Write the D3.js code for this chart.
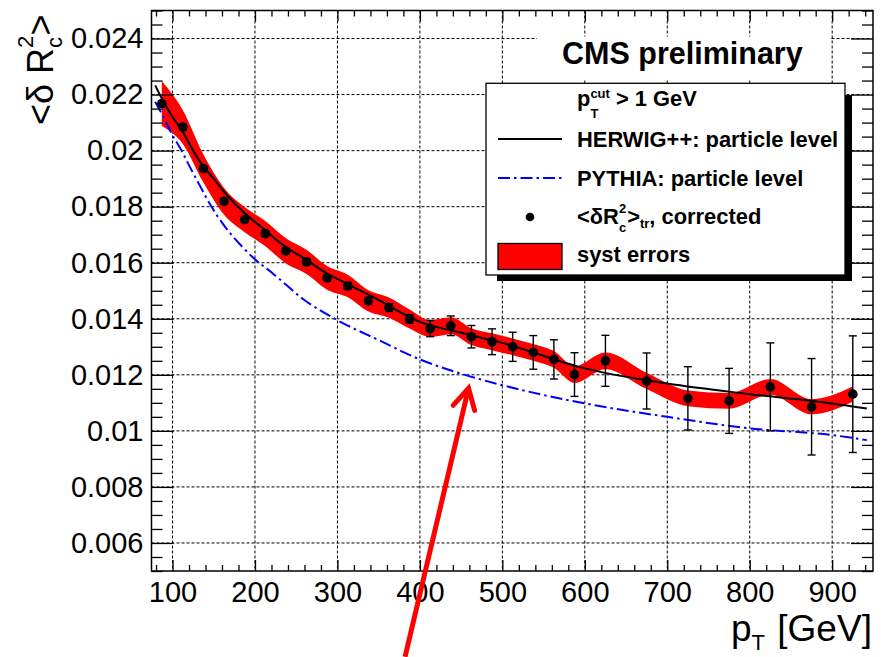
<!DOCTYPE html>
<meta charset="utf-8">
<head>
<title>delta R2 vs pT</title>
<style>
  body { margin: 0; background: #fff; }
  svg { display: block; background: #fff; }
  text { font-family: "Liberation Sans", Arial, Helvetica, sans-serif; fill: #000; }
  .grid line { stroke: #000; stroke-width: 1; stroke-dasharray: 3,2; }
  .tick line { stroke: #000; stroke-width: 1.3; }
</style>
</head>
<body>
<script src="https://cdn.jsdelivr.net/npm/d3@7"></script>
<script>

// ---- data ----
var ptBins   = [87, 112.5, 137.5, 162.5, 187.5, 212.5, 237.5, 262.5, 287.5, 312.5, 337.5, 362.5,
                387.5, 412.5, 437.5, 462.5, 487.5, 512.5, 537.5, 562.5, 587.5, 625, 675, 725,
                775, 825, 875, 925];
var measured = [0.02168, 0.02084, 0.01936, 0.01819, 0.01754, 0.01704, 0.01642, 0.01603, 0.01546,
                0.01517, 0.01464, 0.01440, 0.01399, 0.01365, 0.01375, 0.01336, 0.01318, 0.01300,
                0.01280, 0.01255, 0.01201, 0.01250, 0.01178, 0.01116, 0.01107, 0.01157, 0.01086,
                0.01131];
var statErr  = [0.0001, 0.0001, 0.0001, 0.0001, 0.0001, 0.0001, 0.0001, 0.0001, 0.0001, 0.00012,
                0.00012, 0.00014, 0.00015, 0.00029, 0.00035, 0.0004, 0.00046, 0.00052, 0.0006,
                0.0007, 0.00078, 0.00091, 0.001, 0.00113, 0.00116, 0.00157, 0.00172, 0.00208];
var systErr  = [0.0008, 0.0006, 0.0005, 0.00048, 0.00045, 0.00045, 0.00045, 0.00043, 0.00042,
                0.0004, 0.00038, 0.00036, 0.00034, 0.0003, 0.0003, 0.0003, 0.0003, 0.0003, 0.0003,
                0.0003, 0.0003, 0.0003, 0.00029, 0.00028, 0.00028, 0.00028, 0.00027, 0.00027];

var herwigPt  = [79, 87, 100, 113, 125, 137, 150, 162, 186, 210, 234, 263, 287, 311, 343, 400,
                 450, 500, 600, 700, 800, 900, 942];
var herwigVal = [0.02233, 0.02186, 0.0212, 0.02065, 0.0200, 0.01945, 0.0190, 0.01855, 0.01781,
                 0.01722, 0.01663, 0.01609, 0.01562, 0.01526, 0.01478, 0.01389, 0.0135, 0.01314,
                 0.01223, 0.01169, 0.01131, 0.01098, 0.0108];

var pythiaPt  = [79, 89, 99, 111, 121, 133, 145, 162, 182, 200, 222, 259, 300, 350, 400, 450,
                 500, 600, 700, 800, 900, 942];
var pythiaVal = [0.02174, 0.0212, 0.0206, 0.0200, 0.01942, 0.01876, 0.01811, 0.01735, 0.01665,
                 0.01612, 0.01561, 0.01469, 0.01395, 0.01324, 0.01255, 0.01204, 0.01163, 0.01098,
                 0.0105, 0.01009, 0.00985, 0.00967];

var xMajor = [100, 200, 300, 400, 500, 600, 700, 800, 900];
var yMajor = [0.006, 0.008, 0.01, 0.012, 0.014, 0.016, 0.018, 0.02, 0.022, 0.024];

// arrow annotation (tail, tip) in data units
var arrowPt  = [382, 459];
var arrowVal = [0.00194, 0.01152];

// ---- frame / scales ----
var W = 885, H = 657;
var fl = 151.5, fr = 873, ft = 10.5, fb = 571;

var x = d3.scaleLinear().domain([74.5, 949.5]).range([fl, fr]);
var y = d3.scaleLinear().domain([0.005, 0.025]).range([fb, ft]);

var xMinor = d3.range(80, 949, 20).filter(function(d) { return d % 100 !== 0; });
var yMinor = d3.range(0.0050, 0.02501, 0.0005).map(function(d) { return +d.toFixed(4); })
               .filter(function(d) { return yMajor.indexOf(d) < 0; });

var svg = d3.select("body").append("svg")
    .attr("width", W)
    .attr("height", H);

// grid
var grid = svg.append("g").attr("class", "grid");
grid.selectAll(".gx").data(xMajor).enter().append("line")
    .attr("x1", function(d) { return x(d); }).attr("x2", function(d) { return x(d); })
    .attr("y1", ft).attr("y2", fb);
grid.selectAll(".gy").data(yMajor).enter().append("line")
    .attr("x1", fl).attr("x2", fr)
    .attr("y1", function(d) { return y(d); }).attr("y2", function(d) { return y(d); });

// CMS label (white box hides grid)
svg.append("rect").attr("x", 537).attr("y", 36.5).attr("width", 294).attr("height", 42.5)
    .attr("fill", "#fff");
svg.append("text").attr("x", 562).attr("y", 64)
    .attr("font-size", 30.5).attr("font-weight", "bold")
    .text("CMS preliminary");

// syst band
var pts = ptBins.map(function(p, i) { return {pt: p, v: measured[i], s: systErr[i], e: statErr[i]}; });
var band = d3.area()
    .x(function(d) { return x(d.pt); })
    .y0(function(d) { return y(d.v - d.s); })
    .y1(function(d) { return y(d.v + d.s); })
    .curve(d3.curveMonotoneX);
svg.append("path").datum(pts).attr("d", band).attr("fill", "#ff0000");

// MC curves
var line = d3.line()
    .x(function(d) { return x(d[0]); })
    .y(function(d) { return y(d[1]); })
    .curve(d3.curveMonotoneX);

svg.append("path")
    .datum(pythiaPt.map(function(p, i) { return [p, pythiaVal[i]]; }))
    .attr("d", line).attr("fill", "none")
    .attr("stroke", "#0000ff").attr("stroke-width", 2)
    .attr("stroke-dasharray", "12,4,2.5,4");

svg.append("path")
    .datum(herwigPt.map(function(p, i) { return [p, herwigVal[i]]; }))
    .attr("d", line).attr("fill", "none")
    .attr("stroke", "#000").attr("stroke-width", 2);

// error bars
var eb = svg.append("g").attr("stroke", "#000").attr("stroke-width", 1.4);
eb.selectAll(".bar").data(pts).enter().append("line")
    .attr("x1", function(d) { return x(d.pt); }).attr("x2", function(d) { return x(d.pt); })
    .attr("y1", function(d) { return y(d.v - d.e); }).attr("y2", function(d) { return y(d.v + d.e); });
eb.selectAll(".capT").data(pts).enter().append("line")
    .attr("x1", function(d) { return x(d.pt) - 4; }).attr("x2", function(d) { return x(d.pt) + 4; })
    .attr("y1", function(d) { return y(d.v + d.e); }).attr("y2", function(d) { return y(d.v + d.e); });
eb.selectAll(".capB").data(pts).enter().append("line")
    .attr("x1", function(d) { return x(d.pt) - 4; }).attr("x2", function(d) { return x(d.pt) + 4; })
    .attr("y1", function(d) { return y(d.v - d.e); }).attr("y2", function(d) { return y(d.v - d.e); });

svg.selectAll(".pt").data(pts).enter().append("circle")
    .attr("cx", function(d) { return x(d.pt); })
    .attr("cy", function(d) { return y(d.v); })
    .attr("r", 4.8).attr("fill", "#000");

// axes (ticks inside, on all four sides)
function styleAxis(g) {
  g.select(".domain").remove();
  g.attr("font-family", "\"Liberation Sans\", Arial, sans-serif").attr("font-size", 29);
}
svg.append("g").attr("transform", "translate(0," + fb + ")")
    .call(d3.axisBottom(x).tickValues(xMajor).tickSizeInner(-11).tickSizeOuter(0)
          .tickPadding(10).tickFormat(d3.format("d")))
    .call(styleAxis);
svg.append("g").attr("transform", "translate(0," + fb + ")")
    .call(d3.axisBottom(x).tickValues(xMinor).tickSizeInner(-6).tickSizeOuter(0).tickFormat(""))
    .call(styleAxis);
svg.append("g").attr("transform", "translate(0," + ft + ")")
    .call(d3.axisTop(x).tickValues(xMajor).tickSizeInner(-11).tickSizeOuter(0).tickFormat(""))
    .call(styleAxis);
svg.append("g").attr("transform", "translate(0," + ft + ")")
    .call(d3.axisTop(x).tickValues(xMinor).tickSizeInner(-6).tickSizeOuter(0).tickFormat(""))
    .call(styleAxis);
svg.append("g").attr("transform", "translate(" + fl + ",0)")
    .call(d3.axisLeft(y).tickValues(yMajor).tickSizeInner(-22).tickSizeOuter(0)
          .tickPadding(8).tickFormat(function(d) { return String(+d.toFixed(3)); }))
    .call(styleAxis);
svg.append("g").attr("transform", "translate(" + fl + ",0)")
    .call(d3.axisLeft(y).tickValues(yMinor).tickSizeInner(-11).tickSizeOuter(0).tickFormat(""))
    .call(styleAxis);
svg.append("g").attr("transform", "translate(" + fr + ",0)")
    .call(d3.axisRight(y).tickValues(yMajor).tickSizeInner(-22).tickSizeOuter(0).tickFormat(""))
    .call(styleAxis);
svg.append("g").attr("transform", "translate(" + fr + ",0)")
    .call(d3.axisRight(y).tickValues(yMinor).tickSizeInner(-11).tickSizeOuter(0).tickFormat(""))
    .call(styleAxis);

svg.append("rect").attr("x", fl).attr("y", ft).attr("width", fr - fl).attr("height", fb - ft)
    .attr("fill", "none").attr("stroke", "#000").attr("stroke-width", 1.5);

// axis titles
var yt = svg.append("text").attr("transform", "translate(53,125) rotate(-90)")
    .attr("font-size", 36);
yt.append("tspan").text("<\u03b4 R");
yt.append("tspan").attr("font-size", 22).attr("dy", -20).text("2");
yt.append("tspan").attr("font-size", 22).attr("dx", -12.2).attr("dy", 29).text("c");
yt.append("tspan").attr("dx", 1.5).attr("dy", -9).text(">");

var xt = svg.append("text").attr("x", 731).attr("y", 641).attr("font-size", 37);
xt.append("tspan").text("p");
xt.append("tspan").attr("font-size", 22).attr("dy", 9).text("T");
xt.append("tspan").attr("dy", -9).attr("dx", 2).text(" [GeV]");

// legend
var lg = svg.append("g");
lg.append("rect").attr("x", 845).attr("y", 95).attr("width", 7).attr("height", 186).attr("fill", "#000");
lg.append("rect").attr("x", 497).attr("y", 275).attr("width", 355).attr("height", 6).attr("fill", "#000");
lg.append("rect").attr("x", 486).attr("y", 83.3).attr("width", 359).attr("height", 191.7)
    .attr("fill", "#fff").attr("stroke", "#000").attr("stroke-width", 1.3);

var fs = 21.9, tx = 577;
var t1 = lg.append("text").attr("x", tx).attr("y", 106).attr("font-size", fs).attr("font-weight", "bold");
t1.append("tspan").text("p");
t1.append("tspan").attr("font-size", 13).attr("dy", -8).text("cut");
t1.append("tspan").attr("font-size", 13).attr("dx", -19.5).attr("dy", 20).text("T");
t1.append("tspan").attr("dx", 11.5).attr("dy", -12).text(" > 1 GeV");

lg.append("line").attr("x1", 498).attr("x2", 562).attr("y1", 139).attr("y2", 139)
    .attr("stroke", "#000").attr("stroke-width", 2);
lg.append("text").attr("x", tx).attr("y", 146.5).attr("font-size", fs).attr("font-weight", "bold")
    .text("HERWIG++: particle level");

lg.append("line").attr("x1", 498).attr("x2", 562).attr("y1", 178).attr("y2", 178)
    .attr("stroke", "#0000ff").attr("stroke-width", 2).attr("stroke-dasharray", "12,4,2.5,4");
lg.append("text").attr("x", tx).attr("y", 186).attr("font-size", fs).attr("font-weight", "bold")
    .text("PYTHIA: particle level");

lg.append("circle").attr("cx", 530).attr("cy", 217).attr("r", 4.3).attr("fill", "#000");
var t4 = lg.append("text").attr("x", tx).attr("y", 224).attr("font-size", fs).attr("font-weight", "bold");
t4.append("tspan").text("<\u03b4R");
t4.append("tspan").attr("font-size", 13).attr("dy", -11).text("2");
t4.append("tspan").attr("font-size", 13).attr("dx", -7.2).attr("dy", 19).text("c");
t4.append("tspan").attr("dx", 1).attr("dy", -8).text(">");
t4.append("tspan").attr("font-size", 13).attr("dy", 4).text("tr");
t4.append("tspan").attr("dy", -4).text(", corrected");

lg.append("rect").attr("x", 498).attr("y", 243.5).attr("width", 64).attr("height", 26)
    .attr("fill", "#ff0000").attr("stroke", "#000").attr("stroke-width", 1.3);
lg.append("text").attr("x", tx).attr("y", 262).attr("font-size", fs).attr("font-weight", "bold")
    .text("syst errors");

// red arrow annotation
var ax0 = x(arrowPt[0]), ay0 = y(arrowVal[0]), ax1 = x(arrowPt[1]), ay1 = y(arrowVal[1]);
var ang = Math.atan2(ay1 - ay0, ax1 - ax0), hl = 23, ha = 0.5;
svg.append("line").attr("x1", ax0).attr("y1", ay0).attr("x2", ax1).attr("y2", ay1)
    .attr("stroke", "#ff0000").attr("stroke-width", 5);
svg.append("path")
    .attr("d", "M" + (ax1 - hl * Math.cos(ang - ha)) + "," + (ay1 - hl * Math.sin(ang - ha)) +
               "L" + ax1 + "," + ay1 +
               "L" + (ax1 - hl * Math.cos(ang + ha)) + "," + (ay1 - hl * Math.sin(ang + ha)))
    .attr("fill", "none").attr("stroke", "#ff0000").attr("stroke-width", 5)
    .attr("stroke-linejoin", "miter").attr("stroke-linecap", "round");

</script>
</body>
